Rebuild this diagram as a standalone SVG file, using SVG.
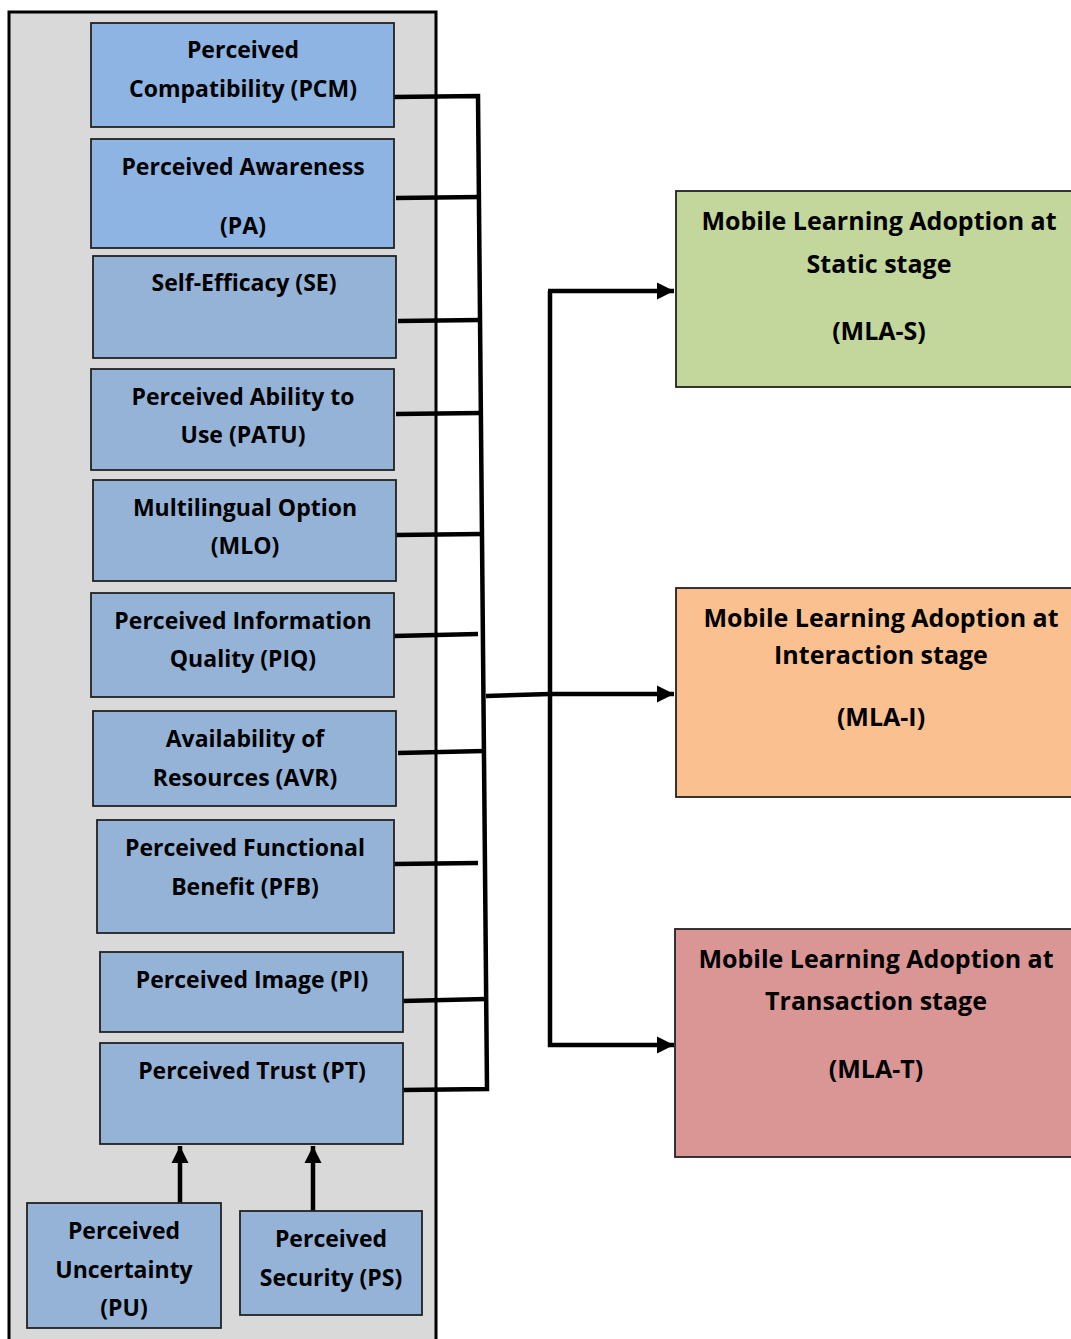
<svg xmlns="http://www.w3.org/2000/svg" width="1071" height="1339" viewBox="0 0 1071 1339">
<defs>
<style>
.box{stroke:#222;stroke-width:1.8}
.b1{fill:#8eb4e3}
.b2{fill:#95b3d7}
.t{font-family:"Open Sans","DejaVu Sans",sans-serif;font-weight:700;font-size:23px;fill:#000;text-anchor:middle}
.r{font-size:25px}
.c{fill:none;stroke:#000;stroke-width:4.5}
</style>
<marker id="ah" viewBox="0 0 10 10" refX="10" refY="5" markerWidth="3.8" markerHeight="3.8" markerUnits="strokeWidth" orient="auto">
<path d="M0,0 L10,5 L0,10 Z" fill="#000"/>
</marker>
</defs>
<rect width="1071" height="1339" fill="#fff"/>
<g id="container">
<rect x="9" y="12" width="427" height="1340" fill="#d9d9d9" stroke="#000" stroke-width="3"/>
</g>
<g id="connectors">
<polyline class="c" points="394,97 478,96 487,1089 403,1090"/>
<line class="c" x1="396" y1="198" x2="479" y2="197"/>
<line class="c" x1="398" y1="321" x2="480" y2="320"/>
<line class="c" x1="396" y1="414" x2="481" y2="413"/>
<line class="c" x1="396" y1="535" x2="482" y2="534"/>
<line class="c" x1="394" y1="636" x2="478" y2="634"/>
<line class="c" x1="398" y1="753" x2="484" y2="751"/>
<line class="c" x1="394" y1="864" x2="478" y2="863"/>
<line class="c" x1="403" y1="1001" x2="486" y2="999"/>
<polyline class="c" points="486,696 550,694 674,694" marker-end="url(#ah)"/>
<polyline class="c" points="550,291 550,1045 674,1045" marker-end="url(#ah)"/>
<line class="c" x1="548" y1="291" x2="674" y2="291" marker-end="url(#ah)"/>
<line class="c" x1="180" y1="1210" x2="180" y2="1146" marker-end="url(#ah)"/>
<line class="c" x1="313" y1="1211" x2="313" y2="1146" marker-end="url(#ah)"/>
</g>
<g id="PCM"><rect class="box b1" x="91" y="23" width="303" height="104"/><text class="t" x="243" y="58">Perceived</text><text class="t" x="243" y="97">Compatibility (PCM)</text></g>
<g id="PA"><rect class="box b1" x="91" y="139" width="303" height="109"/><text class="t" x="243" y="175">Perceived Awareness</text><text class="t" x="243" y="234">(PA)</text></g>
<g id="SE"><rect class="box b2" x="93" y="256" width="303" height="102"/><text class="t" x="244" y="291">Self-Efficacy (SE)</text></g>
<g id="PATU"><rect class="box b2" x="91" y="369" width="303" height="101"/><text class="t" x="243" y="405">Perceived Ability to</text><text class="t" x="243" y="443">Use (PATU)</text></g>
<g id="MLO"><rect class="box b2" x="93" y="480" width="303" height="101"/><text class="t" x="245" y="516">Multilingual Option</text><text class="t" x="245" y="554">(MLO)</text></g>
<g id="PIQ"><rect class="box b2" x="91" y="593" width="303" height="104"/><text class="t" x="243" y="629">Perceived Information</text><text class="t" x="243" y="667">Quality (PIQ)</text></g>
<g id="AVR"><rect class="box b2" x="93" y="711" width="303" height="95"/><text class="t" x="245" y="747">Availability of</text><text class="t" x="245" y="786">Resources (AVR)</text></g>
<g id="PFB"><rect class="box b2" x="97" y="820" width="297" height="113"/><text class="t" x="245" y="856">Perceived Functional</text><text class="t" x="245" y="895">Benefit (PFB)</text></g>
<g id="PI"><rect class="box b2" x="100" y="952" width="303" height="80"/><text class="t" x="252" y="988">Perceived Image (PI)</text></g>
<g id="PT"><rect class="box b2" x="100" y="1043" width="303" height="101"/><text class="t" x="252" y="1079">Perceived Trust (PT)</text></g>
<g id="PU"><rect class="box b2" x="27" y="1203" width="194" height="125"/><text class="t" x="124" y="1239">Perceived</text><text class="t" x="124" y="1278">Uncertainty</text><text class="t" x="124" y="1316">(PU)</text></g>
<g id="PS"><rect class="box b2" x="240" y="1211" width="182" height="104"/><text class="t" x="331" y="1247">Perceived</text><text class="t" x="331" y="1286">Security (PS)</text></g>
<g id="MLA-S"><rect class="box" fill="#c3d69b" x="676" y="191" width="400" height="196"/><text class="t r" x="879" y="230">Mobile Learning Adoption at</text><text class="t r" x="879" y="273">Static stage</text><text class="t r" x="879" y="340">(MLA-S)</text></g>
<g id="MLA-I"><rect class="box" fill="#fac090" x="676" y="588" width="400" height="209"/><text class="t r" x="881" y="627">Mobile Learning Adoption at</text><text class="t r" x="881" y="664">Interaction stage</text><text class="t r" x="881" y="726">(MLA-I)</text></g>
<g id="MLA-T"><rect class="box" fill="#d99694" x="675" y="929" width="400" height="228"/><text class="t r" x="876" y="968">Mobile Learning Adoption at</text><text class="t r" x="876" y="1010">Transaction stage</text><text class="t r" x="876" y="1078">(MLA-T)</text></g>
</svg>
